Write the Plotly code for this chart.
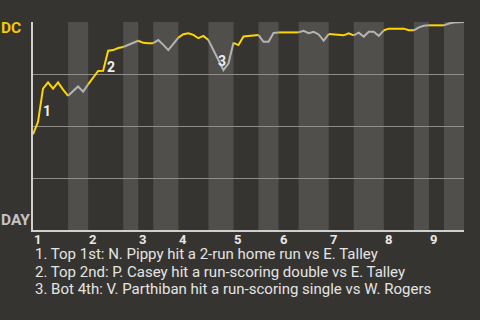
import plotly.graph_objects as go

# ---- data ----
win_prob = [0.46, 0.52, 0.68, 0.71, 0.68, 0.71, 0.675, 0.645, 0.667, 0.69,
            0.665, 0.70, 0.735, 0.765, 0.766, 0.862, 0.865, 0.875, 0.88, 0.89,
            0.90, 0.91, 0.90, 0.898, 0.898, 0.913, 0.89, 0.865, 0.895, 0.925,
            0.941, 0.946, 0.938, 0.922, 0.933, 0.913, 0.865, 0.82, 0.769, 0.80,
            0.90, 0.889, 0.93, 0.932, 0.932, 0.937, 0.905, 0.905, 0.947, 0.95,
            0.95, 0.95, 0.95, 0.95, 0.958, 0.946, 0.953, 0.94, 0.91, 0.942,
            0.94, 0.936, 0.936, 0.946, 0.936, 0.949, 0.93, 0.953, 0.953, 0.933,
            0.96, 0.968, 0.968, 0.968, 0.968, 0.96, 0.96, 0.974, 0.982, 0.984,
            0.984, 0.984, 0.984, 0.993, 0.997, 0.998, 1.0]
half_inning_starts = [0, 7, 11, 18, 21, 24, 29, 35, 40, 45, 49, 53, 59, 64, 70, 76, 79, 82]
inning_labels = ["1", "2", "3", "4", "5", "6", "7", "8", "9"]
event_plays = [2, 15, 38]
event_labels = ["1", "2", "3"]
event_texts = [
    "1. Top 1st: N. Pippy hit a 2-run home run vs E. Talley",
    "2. Top 2nd: P. Casey hit a run-scoring double vs E. Talley",
    "3. Bot 4th: V. Parthiban hit a run-scoring single vs W. Rogers",
]
team_top = "DC"
team_bottom = "DAY"

# ---- style ----
BG = "#363430"
STRIPE = "#504f4c"
YELLOW = "#ffd500"
GRAY_LINE = "#b4b4b2"
FONT = "Roboto"

n_last = len(win_prob) - 1
bounds = half_inning_starts + [n_last]

fig = go.Figure()
shapes = []
for i in range(len(half_inning_starts)):
    a, b = bounds[i], bounds[i + 1]
    is_top = (i % 2 == 0)
    if not is_top:
        shapes.append(dict(type="rect", xref="x", yref="paper", x0=a, x1=b, y0=0, y1=1,
                           fillcolor=STRIPE, line=dict(width=0), layer="below"))
    xs = list(range(a, b + 1))
    ys = [win_prob[k] for k in xs]
    fig.add_trace(go.Scatter(x=xs, y=ys, mode="lines",
                             line=dict(color=YELLOW if is_top else GRAY_LINE, width=2),
                             hoverinfo="skip", showlegend=False))

annotations = []
# inning labels
for j, lab in enumerate(inning_labels):
    annotations.append(dict(x=half_inning_starts[2 * j], y=0, xref="x", yref="paper",
                            text="<b>%s</b>" % lab, showarrow=False, xanchor="left",
                            yanchor="top", yshift=-1, xshift=0, borderpad=0,
                            font=dict(family=FONT, size=13, color="#e8e8e8")))
# event markers
shifts = [(4, -22), (3, -16), (-1, 9)]
for p, lab, (dx, dy) in zip(event_plays, event_labels, shifts):
    annotations.append(dict(x=p, y=win_prob[p], xref="x", yref="y", text="<b>%s</b>" % lab,
                            showarrow=False, xshift=dx, yshift=dy, borderpad=0,
                            font=dict(family=FONT, size=14, color="#eeeeee")))
# team labels
annotations.append(dict(x=0, y=1, xref="paper", yref="paper", text="<b>%s</b>" % team_top,
                        showarrow=False, xanchor="right", yanchor="middle", xshift=-11, yshift=-6,
                        borderpad=0, font=dict(family=FONT, size=15.5, color="#f2cc00")))
annotations.append(dict(x=0, y=0, xref="paper", yref="paper", text="<b>%s</b>" % team_bottom,
                        showarrow=False, xanchor="right", yanchor="middle", xshift=-2, yshift=10,
                        borderpad=0, font=dict(family=FONT, size=15.5, color="#c4c4c4")))
# event descriptions
for k, t in enumerate(event_texts):
    annotations.append(dict(x=0, y=0, xref="paper", yref="paper", text=t, showarrow=False,
                            xanchor="left", yanchor="middle", yshift=-24 - 17.5 * k, xshift=1,
                            borderpad=0, font=dict(family=FONT, size=15, color="#e4e4e4")))

fig.update_layout(
    width=480, height=320,
    margin=dict(l=33, r=16, t=22, b=90),
    paper_bgcolor=BG, plot_bgcolor=BG,
    shapes=shapes, annotations=annotations,
    xaxis=dict(range=[0, n_last], showgrid=False, zeroline=False, showticklabels=False,
               ticks="", showline=True, linecolor="#cfcfcf", linewidth=2, fixedrange=True),
    yaxis=dict(range=[0, 1], tickvals=[0.25, 0.5, 0.75, 1.0], showgrid=True,
               gridcolor="#8e8d8b", gridwidth=1, zeroline=False, showticklabels=False,
               ticks="", showline=True, linecolor="#cfcfcf", linewidth=2, fixedrange=True),
)

fig.write_html("out.html")
